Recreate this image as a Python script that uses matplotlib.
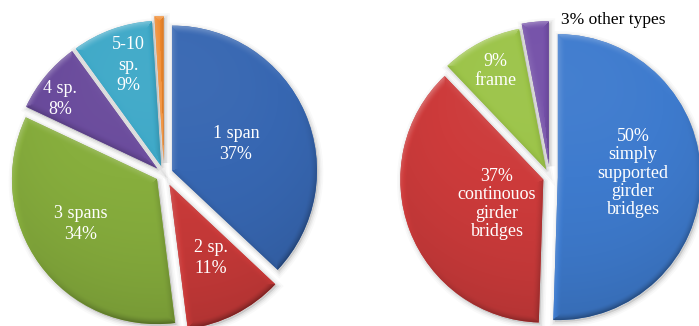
import numpy as np
import matplotlib
matplotlib.use("Agg")
import matplotlib.pyplot as plt
from matplotlib.colors import to_rgb
from matplotlib.patches import Wedge

W, H = 699, 326

# Bridges by number of spans
span_names = ["1 span", "2 sp.", "3 spans", "4 sp.", "5-10\nsp.", ""]
span_share = [37, 11, 34, 8, 9, 1]
span_colors = ["#3767b2", "#c93a39", "#87ae3d", "#6a4b9c", "#3fa9c8", "#f0882b"]
span_explode = [0.06, 0.085, 0.06, 0.06, 0.06, 0.09]

# Bridges by structural type
type_names = ["simply\nsupported\ngirder\nbridges", "continouos\ngirder\nbridges",
              "frame", "other types"]
type_share = [50, 37, 9, 3]
type_colors = ["#3e7bce", "#cd3b3b", "#9cc449", "#7450a8"]
type_explode = [0.055, 0.05, 0.06, 0.09]

plt.rcParams["font.family"] = ["Liberation Serif", "DejaVu Serif"]

fig = plt.figure(figsize=(W / 100, H / 100), dpi=100)
ax = fig.add_axes([0, 0, 1, 1])


def mix(c, s):
    """Lighten (s>0) or darken (s<0) an rgb array."""
    out = np.where(s[..., None] > 0,
                   c + (1 - c) * s[..., None],
                   c * (1 + s[..., None]))
    return np.clip(out, 0, 1)


def bevel(ax, w, base, bw=7.0, k=0.28, light=(-0.5, 0.85)):
    cx, cy = w.center
    r = w.r
    t1, t2 = np.deg2rad(w.theta1), np.deg2rad(w.theta2)
    n = int(2 * r) + 2
    xs = np.linspace(cx - r, cx + r, n)
    ys = np.linspace(cy - r, cy + r, n)
    X, Y = np.meshgrid(xs, ys)
    dx, dy = X - cx, Y - cy
    rr = np.hypot(dx, dy) + 1e-9
    d_arc = r - rr
    big = 1e6
    # distances to the two straight edges (rays)
    p1 = dx * np.cos(t1) + dy * np.sin(t1)
    e1 = np.where(p1 >= 0, np.abs(-dx * np.sin(t1) + dy * np.cos(t1)), big)
    p2 = dx * np.cos(t2) + dy * np.sin(t2)
    e2 = np.where(p2 >= 0, np.abs(dx * np.sin(t2) - dy * np.cos(t2)), big)
    D = np.stack([d_arc, e1, e2])
    idx = np.argmin(D, axis=0)
    d = np.min(D, axis=0)
    nx = np.choose(idx, [dx / rr, np.full_like(dx, np.sin(t1)), np.full_like(dx, -np.sin(t2))])
    ny = np.choose(idx, [dy / rr, np.full_like(dx, -np.cos(t1)), np.full_like(dx, np.cos(t2))])
    L = np.array(light) / np.hypot(*light)
    lam = nx * L[0] + ny * L[1]
    f = np.clip(1 - d / bw, 0, 1) ** 1.6
    s = f * lam * k
    s = s + 0.07 * (dy / r) - 0.05 * (rr / r) ** 3
    img = mix(np.array(to_rgb(base)), s)
    im = ax.imshow(img, origin="lower", extent=(cx - r, cx + r, cy - r, cy + r),
                   interpolation="bilinear", zorder=3)
    im.set_clip_path(w)


def shadow(ax, w):
    cx, cy = w.center
    for lw, a in [(7, 0.025), (4.5, 0.035), (2.5, 0.05)]:
        ax.add_patch(Wedge((cx + 1.5, cy - 2.0), w.r, w.theta1, w.theta2,
                           facecolor=(0, 0, 0, a), edgecolor=(0, 0, 0, a),
                           linewidth=lw, zorder=1))


def draw_pie(center, radius, values, colors, explode):
    # pie() offsets exploded wedges in data units, so scale by the radius
    wedges, _ = ax.pie(values, colors=colors,
                       explode=[e * radius for e in explode], startangle=90,
                       counterclock=False, radius=radius, center=center,
                       frame=True, wedgeprops=dict(linewidth=0, zorder=2))
    for w, c in zip(wedges, colors):
        shadow(ax, w)
        bevel(ax, w, c)
    return wedges


draw_pie((164, H - 174), 145, span_share, span_colors, span_explode)
draw_pie((550, H - 177), 143, type_share, type_colors, type_explode)

txt = dict(color="white", fontsize=13, ha="center", va="center",
           multialignment="center", zorder=5)

span_pos = [(236, 144), (211, 258), (81, 224), (60, 99), (128, 65)]
for name, v, (x, y) in zip(span_names, span_share, span_pos):
    ax.text(x, H - y, f"{name}\n{v}%", linespacing=1.25, **txt)

type_pos = [(633, 173), (497, 204), (495, 71)]
for name, v, (x, y) in zip(type_names, type_share, type_pos):
    ax.text(x, H - y, f"{v}%\n{name}", linespacing=1.08, **txt)

ax.text(561, H - 20, f"{type_share[3]}% {type_names[3]}", color="black",
        fontsize=12.5, ha="left", va="center", zorder=5)

ax.set_xlim(0, W)
ax.set_ylim(0, H)
ax.set_aspect("auto")
ax.set_axis_off()

fig.savefig("out.png", dpi=100)
